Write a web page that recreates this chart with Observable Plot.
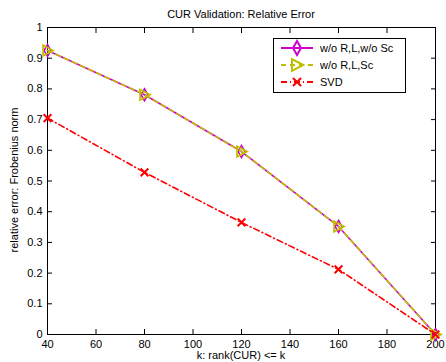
<!DOCTYPE html>
<html><head><meta charset="utf-8">
<script src="https://cdn.jsdelivr.net/npm/d3@7"></script>
<script src="https://cdn.jsdelivr.net/npm/@observablehq/plot@0.6"></script>
<style>
body{margin:0;background:#fff;font-family:"Liberation Sans",Arial,sans-serif;}
#c{position:relative;width:446px;height:362px;overflow:hidden;}
</style></head><body><div id="c"></div>
<script>
const title = "CUR Validation: Relative Error";
const xLabel = "k: rank(CUR) <= k";
const yLabel = "relative error: Frobenius norm";
const ks = [40, 80, 120, 160, 200];
const curNoScale = [0.925, 0.781, 0.596, 0.352, 0.0];
const curScale = [0.925, 0.781, 0.596, 0.352, 0.0];
const svd = [0.705, 0.528, 0.365, 0.212, 0.0];
const seriesNames = ["w/o R,L,w/o Sc", "w/o R,L,Sc", "SVD"];
const xTicks = [40, 60, 80, 100, 120, 140, 160, 180, 200];
const yTicks = [0, 0.1, 0.2, 0.3, 0.4, 0.5, 0.6, 0.7, 0.8, 0.9, 1];

const colors = ["#cc00cc", "#bfbf00", "#ff0000"];
const triRight = {draw(ctx, size){ const r = Math.sqrt(size)/1.6; ctx.moveTo(r, 0); ctx.lineTo(-r*0.8, -r*0.95); ctx.lineTo(-r*0.8, r*0.95); ctx.closePath(); }};

const rows = (vals, s) => ks.map((k, i) => ({k, v: vals[i], s}));
const d0 = rows(curNoScale, seriesNames[0]);
const d1 = rows(curScale, seriesNames[1]);
const d2 = rows(svd, seriesNames[2]);

const dashes = [null, "5,4", "6,3,1,3"];
const W = 446, H = 362;
const plot = Plot.plot({
  width: W, height: H,
  marginLeft: 47, marginRight: 11, marginTop: 27, marginBottom: 28,
  style: {fontFamily: "Liberation Sans, Arial, sans-serif", fontSize: "11px", color: "#000", background: "transparent"},
  x: {domain: [40, 200], label: null},
  y: {domain: [0, 1], label: null},
  marks: [
    Plot.frame({stroke: "#000", strokeWidth: 1}),
    Plot.axisX({ticks: xTicks, tickSize: 0, tickPadding: 6, tickFormat: d => d, fontSize: 11}),
    Plot.axisX({ticks: xTicks, tickSize: -5, tickFormat: () => "", anchor: "bottom"}),
    Plot.axisX({ticks: xTicks, tickSize: -5, tickFormat: () => "", anchor: "top"}),
    Plot.axisY({ticks: yTicks, tickSize: 0, tickPadding: 5, tickFormat: d => d, fontSize: 11}),
    Plot.axisY({ticks: yTicks, tickSize: -5, tickFormat: () => "", anchor: "left"}),
    Plot.axisY({ticks: yTicks, tickSize: -5, tickFormat: () => "", anchor: "right"}),
    Plot.line(d0, {x: "k", y: "v", stroke: colors[0], strokeWidth: 1.6}),
    Plot.dot(d0, {x: "k", y: "v", symbol: "diamond", r: 3.6, stroke: colors[0], strokeWidth: 1.6, fill: "none"}),
    Plot.line(d1, {x: "k", y: "v", stroke: colors[1], strokeWidth: 1.6, strokeDasharray: dashes[1]}),
    Plot.dot(d1, {x: "k", y: "v", symbol: triRight, r: 5, stroke: colors[1], strokeWidth: 1.8, fill: "none"}),
    Plot.line(d2, {x: "k", y: "v", stroke: colors[2], strokeWidth: 1.6, strokeDasharray: dashes[2]}),
    Plot.dot(d2, {x: "k", y: "v", symbol: "times", r: 3.6, stroke: colors[2], strokeWidth: 2})
  ]
});
document.getElementById("c").appendChild(plot);

const svg = d3.select(plot);
const ff = "Liberation Sans, Arial, sans-serif";
svg.append("text").attr("x", 241).attr("y", 18).attr("text-anchor", "middle").attr("font-size", 11).attr("font-family", ff).text(title);
svg.append("text").attr("x", 241).attr("y", 359).attr("text-anchor", "middle").attr("font-size", 11).attr("font-family", ff).text(xLabel);
svg.append("text").attr("transform", "translate(18,180) rotate(-90)").attr("text-anchor", "middle").attr("font-size", 11).attr("font-family", ff).text(yLabel);

// legend
const lg = svg.append("g");
lg.append("rect").attr("x", 273.5).attr("y", 38.5).attr("width", 132).attr("height", 54).attr("fill", "#ffffff").attr("stroke", "#000000").attr("stroke-width", 1);
const syms = [d3.symbolDiamond, triRight, d3.symbolTimes];
seriesNames.forEach((n, i) => {
  const y = 48 + i * 17;
  const ln = lg.append("line").attr("x1", 281).attr("x2", 313).attr("y1", y).attr("y2", y).attr("stroke", colors[i]).attr("stroke-width", 2);
  if (dashes[i]) ln.attr("stroke-dasharray", dashes[i]);
  lg.append("path").attr("transform", `translate(297,${y})`).attr("d", d3.symbol(syms[i], i === 2 ? 45 : (i === 0 ? 55 : 100))()).attr("fill", "none").attr("stroke", colors[i]).attr("stroke-width", 2);
  lg.append("text").attr("x", 320).attr("y", y + 4).attr("text-anchor", "start").attr("font-size", 11).attr("font-family", ff).text(n);
});
</script></body></html>
